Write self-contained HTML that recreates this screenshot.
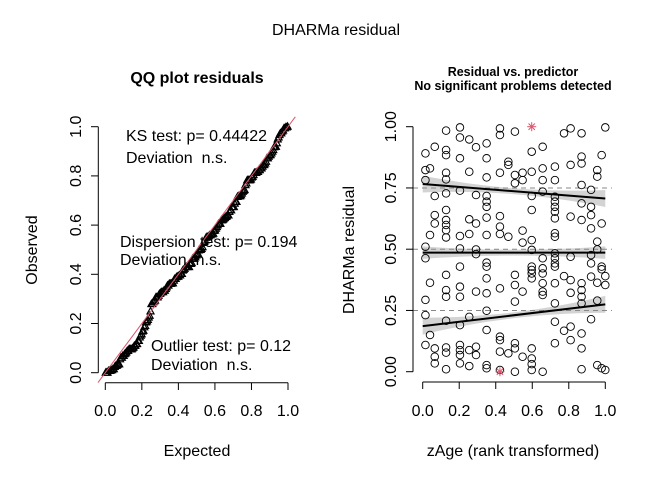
<!DOCTYPE html>
<html><head><meta charset="utf-8"><style>
body{margin:0;background:#fff}
svg text{font-family:"Liberation Sans",sans-serif;fill:#000;white-space:pre}
</style></head><body>
<svg id="c" width="672" height="480" viewBox="0 0 672 480" xmlns="http://www.w3.org/2000/svg">
<rect width="672" height="480" fill="#fff"/>
<text x="336" y="35" font-size="16" text-anchor="middle">DHARMa residual</text>
<g id="left"></g>
<g id="right"></g>
</svg>
<script>
// residuals vs predictor data: [rank-transformed predictor, scaled residual]
const predX = [0.015,0.04,0.066,0.128,0.204,0.255,0.292,0.350,0.423,0.469,0.505,0.547,0.597,0.657,0.724,0.774,0.810,0.870,0.922,0.956,0.980,1.0];
const resid = [
 [0.891,0.823,0.782,0.510,0.463,0.293,0.231,0.109],
 [0.830,0.558,0.363,0.150],
 [0.918,0.717,0.639,0.605,0.095,0.061,0.034],
 [0.984,0.905,0.884,0.812,0.785,0.728,0.660,0.619,0.599,0.578,0.548,0.395,0.333,0.306,0.208,0.099,0.078,0.010],
 [0.997,0.956,0.871,0.739,0.554,0.503,0.429,0.347,0.306,0.190,0.109,0.088,0.068,0.034],
 [0.948,0.816,0.622,0.562,0.224,0.088,0.023],
 [0.916,0.721,0.605,0.499,0.480,0.327,0.102,0.068],
 [0.932,0.871,0.793,0.717,0.694,0.673,0.629,0.558,0.445,0.429,0.381,0.320,0.249,0.170,0.027,0.014],
 [0.993,0.966,0.812,0.635,0.592,0.562,0.340,0.143,0.129,0.082,0.007],
 [0.857,0.844,0.551,0.075],
 [0.980,0.803,0.769,0.395,0.354,0.286,0.116,0.095,0.0],
 [0.812,0.782,0.576,0.527,0.327,0.061],
 [0.898,0.816,0.717,0.660,0.537,0.497,0.429,0.415,0.401,0.381,0.095,0.054,0.031,0.007],
 [0.918,0.830,0.782,0.735,0.463,0.422,0.401,0.361,0.327,0.313,0.0],
 [0.837,0.782,0.714,0.694,0.673,0.653,0.626,0.565,0.551,0.483,0.463,0.442,0.429,0.361,0.279,0.204,0.116],
 [0.973,0.390,0.167],
 [0.993,0.844,0.633,0.469,0.374,0.322,0.184,0.129],
 [0.973,0.878,0.850,0.762,0.687,0.619,0.361,0.333,0.306,0.279,0.156,0.095,0.010],
 [0.742,0.673,0.639,0.585,0.476,0.442,0.388,0.214],
 [0.823,0.796,0.531,0.499,0.363,0.290,0.027],
 [0.884,0.605,0.429,0.418,0.014],
 [0.997,0.390,0.354,0.007]
];
const outliers = [[0.597,1.0],[0.423,0.0]];
// quantile regression lines: [value at x=0, value at x=1]
const qLines = [[0.766,0.707],[0.486,0.486],[0.186,0.275]];
const qRefs = [0.25,0.5,0.75];
const ticks = [0,0.2,0.4,0.6,0.8,1.0];
const yTicksRight = [0,0.25,0.5,0.75,1.0];

const NS="http://www.w3.org/2000/svg";
function mk(p,t,a){const e=document.createElementNS(NS,t);for(const k in a)e.setAttribute(k,a[k]);p.appendChild(e);return e;}
const L=document.getElementById('left'), R=document.getElementById('right');
const lx=v=>105.3+v*182.7, ly=v=>372.7-v*246;
const rx=v=>422.7+v*182.6, ry=v=>371.7-v*245;

// ---- Left QQ ----
let t=mk(L,'text',{x:197,y:83,'font-size':16,'font-weight':'bold','text-anchor':'middle'});t.textContent='QQ plot residuals';

const all=[];resid.forEach(c=>c.forEach(v=>all.push(v)));outliers.forEach(o=>all.push(o[1]));
const sorted=all.slice().sort((a,b)=>a-b);const n=sorted.length;
sorted.forEach((v,i)=>{
 const e=(i+0.5)/n,x=lx(e),y=ly(v);
 const p=mk(L,'polygon',{points:`${x},${y-3.8} ${x-3.5},${y+2.4} ${x+3.5},${y+2.4}`,fill:'none',stroke:'#000','stroke-width':1.2});
 
});
let ln=mk(L,'line',{x1:lx(-0.04),y1:ly(-0.04),x2:lx(1.04),y2:ly(1.04),stroke:'#DF536B','stroke-width':1});

let ax=mk(L,'line',{x1:98.3,y1:ly(0),x2:98.3,y2:ly(1),stroke:'#000'});
ax=mk(L,'line',{x1:lx(0),y1:382.7,x2:lx(1),y2:382.7,stroke:'#000'});
ticks.forEach(v=>{
 mk(L,'line',{x1:91,y1:ly(v),x2:98.3,y2:ly(v),stroke:'#000'});
 let tt=mk(L,'text',{x:0,y:0,'font-size':16,'text-anchor':'middle',transform:`translate(81,${ly(v)}) rotate(-90)`});tt.textContent=v.toFixed(1);
 
 mk(L,'line',{x1:lx(v),y1:382.7,x2:lx(v),y2:390,stroke:'#000'});
 tt=mk(L,'text',{x:lx(v),y:416,'font-size':16,'text-anchor':'middle'});tt.textContent=v.toFixed(1);
 
});
t=mk(L,'text',{x:197,y:456,'font-size':16,'text-anchor':'middle'});t.textContent='Expected';

t=mk(L,'text',{x:0,y:0,'font-size':16,'text-anchor':'middle',transform:'translate(37,250) rotate(-90)'});t.textContent='Observed';

const notes=[['KS test: p= 0.44422',126,141],['Deviation  n.s.',126,163],['Dispersion test: p= 0.194',120,247],['Deviation  n.s.',120,265],['Outlier test: p= 0.12',151,351],['Deviation  n.s.',151,370]];
notes.forEach(a=>{const e=mk(L,'text',{x:a[1],y:a[2],'font-size':16});e.textContent=a[0];
 });

// ---- Right panel ----
t=mk(R,'text',{x:513,y:76,'font-size':12.5,'font-weight':'bold','text-anchor':'middle'});t.textContent='Residual vs. predictor';

t=mk(R,'text',{x:513,y:90,'font-size':12.5,'font-weight':'bold','text-anchor':'middle'});t.textContent='No significant problems detected';

qLines.forEach((q,k)=>{
 let top=[],bot=[];
 for(let i=0;i<=20;i++){const x=i/20,m=q[0]+(q[1]-q[0])*x,h=0.012+0.09*(x-0.5)*(x-0.5)*(k==1?0.6:1);
  top.push(`${rx(x)},${ry(m+h)}`);bot.unshift(`${rx(x)},${ry(m-h)}`);}
 const b=mk(R,'polygon',{points:top.concat(bot).join(' '),fill:'#d3d3d3',stroke:'none'});
 
});
qRefs.forEach(v=>{const d=mk(R,'line',{x1:413,y1:ry(v),x2:612,y2:ry(v),stroke:'#888','stroke-dasharray':'5,4','stroke-width':1});
 });
qLines.forEach(q=>{const l=mk(R,'line',{x1:rx(0),y1:ry(q[0]),x2:rx(1),y2:ry(q[1]),stroke:'#000','stroke-width':2});
 });
resid.forEach((col,i)=>col.forEach(v=>{
 const c=mk(R,'circle',{cx:rx(predX[i]),cy:ry(v),r:3.8,fill:'none',stroke:'#000','stroke-width':0.9});
 
}));
outliers.forEach(o=>{const x=rx(o[0]),y=ry(o[1]);const g=mk(R,'g',{stroke:'#DF536B','stroke-width':1});
 
 for(let a=0;a<4;a++){const an=a*Math.PI/4;mk(g,'line',{x1:x-4.5*Math.cos(an),y1:y-4.5*Math.sin(an),x2:x+4.5*Math.cos(an),y2:y+4.5*Math.sin(an)});}
});
ax=mk(R,'line',{x1:413,y1:ry(0),x2:413,y2:ry(1),stroke:'#000'});
ax=mk(R,'line',{x1:rx(0),y1:382,x2:rx(1),y2:382,stroke:'#000'});
yTicksRight.forEach(v=>{
 mk(R,'line',{x1:406,y1:ry(v),x2:413,y2:ry(v),stroke:'#000'});
 const tt=mk(R,'text',{x:0,y:0,'font-size':16,'text-anchor':'middle',transform:`translate(396,${ry(v)}) rotate(-90)`});tt.textContent=v.toFixed(2);
 
});
ticks.forEach(v=>{
 mk(R,'line',{x1:rx(v),y1:382,x2:rx(v),y2:389,stroke:'#000'});
 const tt=mk(R,'text',{x:rx(v),y:416,'font-size':16,'text-anchor':'middle'});tt.textContent=v.toFixed(1);
 
});
t=mk(R,'text',{x:513,y:456,'font-size':16,'text-anchor':'middle'});t.textContent='zAge (rank transformed)';

t=mk(R,'text',{x:0,y:0,'font-size':16,'text-anchor':'middle',transform:'translate(354,250) rotate(-90)'});t.textContent='DHARMa residual';

</script>
</body></html>
